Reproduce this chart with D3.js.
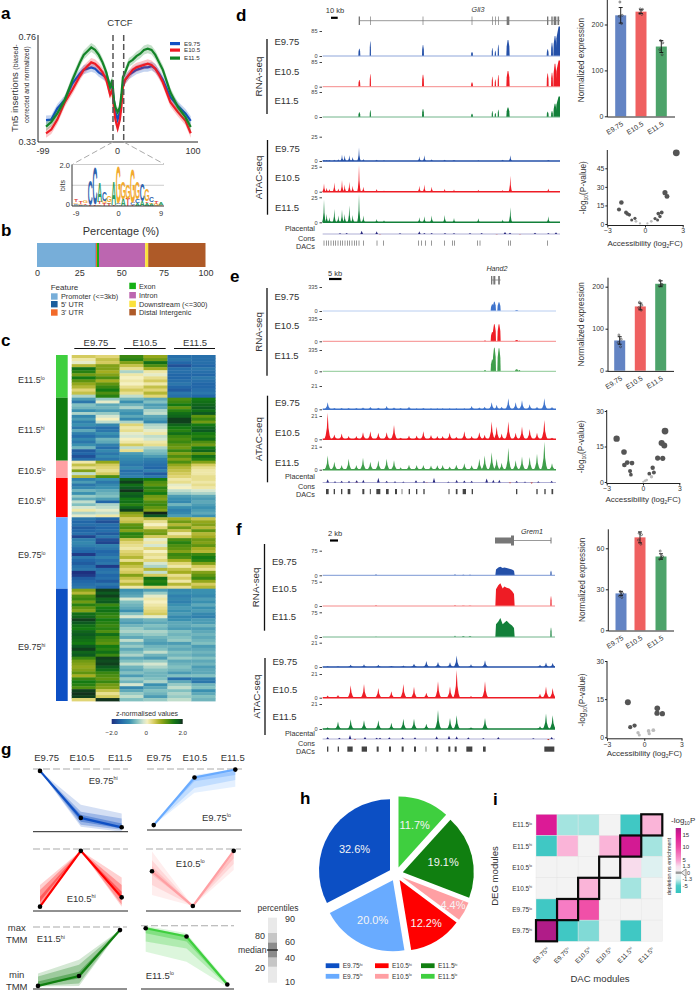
<!DOCTYPE html>
<html><head><meta charset="utf-8">
<script src="https://cdn.jsdelivr.net/npm/d3@7"></script>
<style>html,body{margin:0;padding:0;background:#fff}svg{display:block}text{font-family:"Liberation Sans",Arial,sans-serif;fill:#333}</style>
</head><body><div id="chart"></div>
<script>
// ---------- DATA ----------
const stages=["E9.75","E10.5","E11.5"];
// a: footprint
const footX=[-95,-88,-80,-70,-60,-50,-45,-40,-35,-30,-25,-20,-15,-10,-7,-5,-3,0,3,5,7,10,15,20,25,30,35,40,45,50,55,60,70,80,90,97];
const footE975=[.418,.42,.465,.50,.565,.605,.62,.625,.63,.625,.61,.60,.59,.56,.55,.50,.45,.42,.45,.50,.56,.58,.60,.61,.62,.625,.63,.63,.635,.625,.605,.58,.51,.475,.445,.415];
const footE105=[.365,.38,.42,.49,.54,.595,.62,.635,.65,.645,.63,.61,.58,.52,.54,.47,.42,.385,.42,.47,.55,.58,.60,.62,.63,.635,.64,.645,.64,.625,.60,.57,.49,.45,.415,.365];
const footE115=[.392,.41,.445,.50,.58,.65,.68,.695,.71,.70,.68,.65,.61,.55,.58,.50,.47,.45,.47,.52,.59,.61,.65,.66,.675,.685,.70,.705,.70,.68,.65,.62,.53,.47,.43,.39];
// a: motif logo, position then stacked letters with bits
const logoPos=[-9,-8,-7,-6,-5,-4,-3,-2,-1,0,1,2,3,4,5,6,7,8,9];
const logoStacks=[[["A",.06],["C",.06],["G",.06],["T",.14]],[["C",.05],["G",.05],["T",.1]],[["A",.05],["T",.08],["G",.12]],[["T",.05],["C",1.2]],[["T",.08],["C",1.8]],[["G",.08],["T",.1],["A",.95]],[["T",.15],["G",.1],["C",.45]],[["T",.12],["A",.08],["G",.3]],[["T",.06],["A",1.15]],[["A",.08],["C",.05],["G",1.8]],[["A",.35],["G",.8]],[["T",.35],["G",.72]],[["T",.06],["C",.1],["G",1.7]],[["A",.15],["C",.2],["G",.8]],[["A",.25],["C",.85]],[["A",.15],["T",.08],["G",.55]],[["A",.1],["G",.08],["C",.25]],[["G",.12],["T",.15]],[["G",.06],["A",.1]]];
// b: annotation
const featNames=["Promoter (<=3kb)","5' UTR","3' UTR","Exon","Intron","Downstream (<=300)","Distal Intergenic"];
const featPct=[34.7,.3,.6,1.2,27.4,1.8,34];
const featColors=["#77aed9","#1c5d9c","#f26a2a","#14b014","#bc66b0","#fbe23c","#ae5a28"];
// c: heatmap rows (z values, two replicates for each stage)
const heatNames=[["E11.5","lo"],["E11.5","hi"],["E10.5","lo"],["E10.5","hi"],["E9.75","lo"],["E9.75","hi"]];
const heatColors=["#3fcf3f","#107f10","#ff9fa3","#ff0000","#69abff","#0c4fc4"];
const heatE115lo=[[.4,.3,1.3,.8,-1.4,-1.4],[.1,.5,1.4,1,-1.3,-1.4],[-.1,.4,.9,1.6,-1.5,-1.4],[.6,.9,.5,1.2,-1.7,-1.5],[1.6,.9,.2,.7,-1.4,-1.3],[1.4,.7,-.4,.1,-1.4,-1.4],[1,.9,.1,-.1,-1.5,-1.5],[1.5,1.2,0,.2,-1.5,-1.3],[1.1,.7,.1,.4,-1.4,-1.4],[.8,1.1,0,.1,-1.3,-1.5],[.6,1.3,.2,.5,-1.5,-1.5],[.3,1.5,.4,.3,-1.6,-1.4],[.5,1.2,.2,.6,-1.3,-1.3],[-.4,1.4,-.3,.3,-1.4,-1.5]];
const heatE115hi=[[-.9,-.5,-.7,-.8,1.2,1.5],[-1.3,-.1,-1,-.6,1.3,1.6],[-.6,-.8,-.7,-.9,1.5,1.7],[-.7,-.7,-.4,-.8,1.1,1.8],[-1,-.9,-.9,-.4,1.4,1.6],[-.4,-.5,-1,-.3,1.6,1.8],[-1.1,-.2,-.8,-.8,1.7,1.1],[-.9,0,-1.1,-.9,1.9,1.3],[-1.2,-.3,-.4,-1.1,1.9,1],[-1,-1.1,.3,-.4,1.7,1.5],[-1.3,-1.4,.1,-.3,1.5,1.7],[-.8,-1.3,.2,-.1,1.4,1.8],[-1.2,-1,-.1,.1,1.6,1.5],[-1.4,-1.2,-.2,-.3,1.3,1.4],[-1.1,-.7,0,-.2,1.2,1.6],[-1.3,-.8,.1,.1,1.3,1.2],[-1,-1.2,.4,.2,1.1,1],[-.7,-1.4,-.3,-.4,1,1.5],[-1.6,-1.1,.2,-.6,1.3,1.7],[-1.5,-1.3,-.9,-.7,.9,1.1],[-1.7,-1.1,-1,-.9,1.2,1.6],[-1.4,-1.3,-1.1,-1.2,.9,1.4]];
const heatE105lo=[[.1,.8,-1.2,-1.3,1.2,.9],[.5,.4,-1.3,-1.4,.8,.4],[.2,.3,-1.1,-1.5,.6,.2],[.9,.2,-1.4,-1.2,.5,.1],[-.3,.4,-1.3,-1.6,.4,.1],[.6,1.2,-1.2,-1.3,.3,.2]];
const heatE105hi=[[-1.2,-1,1.7,1.5,.1,.2],[-.9,-1.3,1.9,1.2,.2,.1],[-1.3,-1.1,1.6,1.1,-.1,.2],[-1.1,-1,1.8,1.4,0,.1],[-.7,-.8,1.95,1.3,-.3,-.2],[-1,-.7,1.7,1.5,-.5,-.4],[-.5,-.6,1.8,1,-.9,-.8],[-.8,-.9,1.5,.9,-1,-.9],[-.3,-1.5,1.6,1.2,-1.1,-.8],[-.6,-.4,1.4,1.3,-.7,-.9],[-.2,-.3,1.7,1.1,-1,-1],[.1,-.1,1.9,.9,-1.2,-.9],[-.4,-.3,.9,2,-1.1,-.8],[-.1,.1,.7,1.8,-.9,-1]];
const heatE975lo=[[-1.3,-1.5,.4,.6,.7,.5],[-1.5,-1.7,.5,.2,1,.8],[-1.4,-1.4,1.1,0,.6,.9],[-1.6,-1.5,1.2,.3,1,.6],[-1.5,-1.4,.9,.9,.5,1.1],[-1.4,-1.6,1.4,1,.1,.6],[-1.8,-1.3,1.3,.4,.4,.7],[-1.2,-1.7,.5,-.1,1.2,1],[-1.1,-1.8,.3,.1,1.4,.9],[-1.2,-1.2,.2,-.2,1.2,1.1],[-1.4,-1.3,.1,.3,1.1,.7],[-1.5,-1.5,.3,0,.9,.6],[-1.9,-1.4,.4,.2,1.3,1.3],[-1.3,-1.2,.6,.1,1.2,1.5],[-1.5,-1.4,.2,.3,.7,1.4],[-1.6,-1.3,.7,-.2,.3,.9],[-1.4,-1.9,.5,-.4,.1,.4],[-1.3,-1.4,.3,.6,.5,.2],[-2,-1.3,.4,-.3,.7,.9],[-1.9,-1.5,.9,.4,.2,1.1],[-1.6,-1.4,.5,1.6,.4,1.3],[-1.5,-1.6,.3,1.4,.1,.8],[-1.4,-1.3,.6,1.5,.6,.4],[-1.3,-1.5,.1,.3,.2,.6]];
const heatE975hi=[[.9,1.9,-1,-.9,-1.1,-1],[.6,1.8,-.9,-.5,-1,-1],[1.2,1.9,-.8,-.1,-1.2,-1.1],[1.3,1.7,-.2,.1,-1.1,-.9],[1,1.8,-.6,0,-1.2,-1],[1.4,1.3,-.7,.1,-1,-.8],[1.1,1.5,-.8,.2,-.9,-1],[.9,1.6,-1,.3,-1,-.9],[1.6,1.4,-.6,.4,-.9,-1.1],[1.7,1.3,-.2,-.1,-1.1,-1.2],[1.9,1.5,-.8,-.7,-1,-.9],[1.8,1.4,-.9,-.8,-.8,-.9],[1.6,1.3,-.7,-.6,-.8,-.7],[1.5,1.4,-.5,-.7,-.9,-.9],[1.7,1.2,-.4,-.4,-.6,-.8],[1.8,1.6,-.6,-.5,-.7,-.7],[1.7,1.3,-.8,-.7,-.6,-.8],[1.6,1.2,-.3,-.8,-.5,-.7],[1.5,1.1,-.7,-.9,-.9,-.6],[1.8,1.5,-.5,-.7,-.7,-.9],[1.9,1.4,-.8,-.6,-.8,-.8],[1.7,1.6,-.6,-.3,-.6,-.7],[1.8,1.3,-.4,-.7,-.7,-.8],[1.3,1.9,-.8,-.9,-.5,-.6],[1,1.85,-.6,-.5,-.8,-.8],[.9,1.9,-.3,-.2,-.7,-.7],[.8,1.8,-.7,-.4,-.6,-.9],[.9,1.6,-.8,-.6,-.7,-.8],[1.1,1.3,-.6,-.7,-.9,-.8],[.7,1.2,-.9,-.7,-.6,-.6],[1.3,1.1,-.5,-.6,-1.4,-1.2],[1.5,1.3,-.7,-.4,-.8,-1.3],[1.4,1,-.2,-1,-.5,-.7],[1.2,.9,-1.1,-.8,-.3,-.6],[1.9,.5,-.8,-.6,-.6,-1],[1.95,.2,-.5,-.7,-.4,-.8],[1.9,.4,-.3,-.9,-.5,-.6],[.3,1.95,-.6,-.5,-.3,-.7]];
const heatLegend=[-2,0,2];
// d, e, f: tracks. Positions are genome bins along the track.
const dRnaPos=[388,421,579,726,787,796,805,834,953,966,975,988];
const dRnaW=[3,2,3,3,2,2,2,5,3,3,5,11];
const dRnaE975=[25,49,37,14,27,18,38,54,23,45,68,100];
const dRnaE105=[23,43,41,15,34,25,40,54,45,48,79,90];
const dRnaE115=[16,23,27,11,20,14,25,32,18,20,45,70];
const dAtacPos=[282,290,298,313,325,336,344,358,368,387,400,440,462,568,583,605,644,672,745,818,841,955];
const dAtacE975=[1,1,1,1.3,1.7,6.7,6,6,4,14,2,1.3,.7,5,6,1.7,1.3,1,.7,1.3,6,1];
const dAtacE105=[8.3,4,2.7,9.3,3.3,11.7,7.3,10,6,26.7,5,2.7,1.3,6,7.3,5,3,2.3,2,1.7,16,3.3];
const dAtacE115=[22.7,8.3,5,13.3,6.7,12.7,8.3,16.7,7.3,28.3,6.7,3.3,2,5,6,6.7,7.3,4.3,4,2.7,15,6];
const dCons=[[330,2],[350,3],[395,10],[440,8],[510,2],[568,8],[583,3],[605,3],[645,3],[672,2],[720,3],[755,3],[825,6],[840,4],[915,4],[955,3],[978,5],[450,-1],[800,-1],[870,-1]];
const dDacs=[[282,2],[289,2],[296,2],[303,2],[310,2],[317,2],[324,2],[331,2],[338,2],[345,2],[352,2],[359,2],[366,2],[373,2],[380,2],[387,2],[400,2],[441,2],[460,2],[566,2],[575,2],[586,2],[605,2],[644,2],[668,2],[674,2],[743,2],[750,2],[836,2],[841,2],[953,2]];
const dExons=[[388,4],[421,2],[579,2],[726,2],[787,2],[796,2],[805,2],[834,8],[953,4],[966,4],[975,8],[985,5]];
const eRnaPos=[765,787,793,807,860,868];
const eRnaW=[3,5,5,5,5,3];
const eRnaE975=[0,93,130,121,14,0];
const eRnaE105=[12,140,256,256,19,8];
const eRnaE115=[19,186,372,363,33,19];
const eAtacPos=[293,313,335,356,379,399,421,445,470,492,512,537,560,580,603,622,638,659,679,703,725,748,764,785,800,815,835,857,876,899,921,943,966];
const eAtacE975=[6.4,1.2,1.2,1.2,1.2,1.7,2,1.5,2.9,1.7,1.2,2.3,.9,1.2,.9,.9,.9,.9,.9,.9,2.9,1.7,2.3,6.4,4,2.3,10,6.4,8.1,4.6,2.3,10,2];
const eAtacE105=[24,4.4,5.2,2.9,2.9,6.4,7.3,5.8,6.4,13,1.5,3.5,3.5,7.3,3.8,2.9,2.9,5.8,2.3,7.3,2.9,6.4,4,16,11.6,5.2,16,5.8,11.6,9.3,5.8,17.4,1.5];
const eAtacE115=[13,7.3,4.4,10,4.4,11,7.3,8.7,10,8.7,2.3,4.6,4.4,4.4,3.8,4,4.4,3,4.6,5.8,4,10,13,16,10,6.4,20,8.7,12,11.6,14.5,25.5,5.8];
const eCons=[[293,10],[315,4],[335,5],[357,5],[380,7],[400,8],[445,14],[470,5],[495,4],[520,3],[558,7],[582,5],[612,14],[655,3],[680,8],[703,6],[725,5],[770,12],[790,8],[808,8],[860,5],[885,3],[925,4],[965,5],[840,-3],[905,-4],[380,-1],[590,-1]];
const eDacs=[[292,8],[313,4],[335,4],[357,8],[400,6],[421,3],[445,12],[472,8],[498,6],[516,2],[538,4],[560,4],[582,4],[657,3],[680,5],[703,10],[727,4],[860,4],[921,4],[945,4],[967,5]];
const eExons=[[785,4],[793,6],[807,5]];
const fRnaPos=[438,675,700,720,963];
const fRnaW=[2,2,4,4,2];
const fRnaE975=[3,3,2,2,14];
const fRnaE105=[2,2,1,1,30];
const fRnaE115=[1,4,2,2,28];
const fBlockX=[796,798,805,811,818,823,830,838,846,852,854];
const fBlockE975=[0,18,24,26,22,24,22,20,18,14,0];
const fBlockE105=[0,52,64,70,54,60,56,54,46,37,0];
const fBlockE115=[0,39,47,58,39,43,49,41,35,27,0];
const fAtacPos=[293,324,362,402,445,484,520,552,589,624,660,680,723,765,930,948,968];
const fAtacE975=[.6,.6,2,2.3,2,.9,1.2,2.9,5.2,4.4,4,10,2.3,5.8,2,3.8,3.5];
const fAtacE105=[2,2.3,11,12.2,8.7,5.8,12.2,9.6,4.4,14.5,10,24.6,1.5,14.5,3.5,10,8.7];
const fAtacE115=[1.5,6.4,8.1,7.3,7.3,5.2,8.7,8.7,4.4,16,9.3,11.6,1.5,9.3,2.3,13,11.6];
const fCons=[[293,6],[328,4],[360,12],[405,6],[440,4],[450,4],[478,5],[518,5],[555,5],[620,8],[657,10],[680,8],[715,5],[760,3],[805,6],[910,2],[965,6],[375,-2],[955,-4]];
const fDacs=[[293,4],[325,4],[360,16],[403,16],[443,6],[480,6],[518,6],[555,6],[588,2],[622,6],[658,6],[677,6],[718,18],[763,8],[958,30]];
// expression bars
const dBars=[220,228,152],dErr=[17,4,13],dDots=[[249,220,218,202],[234,233,224,222],[165,160,145,134]];
const eBars=[72,153,207],eErr=[9,8,7],eDots=[[85,75,67,57],[163,156,150,144],[215,205,202,205]];
const fBars=[27,68,54],fErr=[1.5,4,2],fDots=[[28.3,27,25,24],[71,70,66,63],[58,54,52,53]];
// accessibility scatter [log2FC, -log10 P]
const dScatter=[[2.49,57.5],[1.59,25.3],[1.75,22.3],[1.33,9.3],[1.06,8.4],[1.19,6],[1,3.3],[.8,4.4],[.5,2.2],[.19,.5],[-1.88,17.4],[-2.07,11.7],[-1.51,9.3],[-1.25,7.4],[-.8,4.6],[-1.06,3.3],[-.72,2.2],[-.4,.5],[-1.4,8.2]];
const eScatter=[[1.82,21.5],[1.54,16.5],[1.76,15.4],[1.21,10.1],[1.63,10],[.8,6],[.9,4],[.7,2.2],[.52,3.5],[.3,.8],[.03,.1],[-2.18,18.3],[-1.57,12.7],[-1.54,7.2],[-1.3,8.2],[-.91,8],[-1.07,4.6],[-1,3.1],[.17,.5]];
const fScatter=[[-1.32,13.8],[1.05,11.4],[1.03,9.5],[1.46,9.3],[-1.13,4],[-.78,4.6],[-.5,1.8],[-.4,.9],[.35,2.5],[.4,1.4],[.73,2.8]];
// g: percentile ribbons, three stages
const gMedian=[[.97,.22,.07],[.08,.86,.99],[.07,.97,.22],[.64,.08,.97],[.05,.21,.95],[.96,.83,.07]];
const gP10=[[.97,.08,0],[.08,.61,.71],[.07,.97,.07],[.26,.08,.66],[.04,.05,.95],[.59,.43,.03]];
const gP20=[[.97,.11,.03],[.08,.69,.82],[.1,.97,.1],[.42,.08,.76],[.05,.09,.95],[.75,.64,.05]];
const gP40=[[.97,.16,.05],[.08,.8,.9],[.15,.97,.18],[.58,.08,.85],[.06,.17,.95],[.88,.75,.06]];
const gP60=[[.97,.27,.13],[.08,.87,.96],[.23,.97,.31],[.72,.08,.93],[.12,.28,.95],[.96,.83,.09]];
const gP80=[[.97,.32,.21],[.08,.88,.99],[.34,.97,.42],[.82,.08,.97],[.2,.39,.95],[.98,.85,.1]];
const gP90=[[.97,.43,.29],[.08,.9,1],[.42,.97,.54],[.96,.08,1],[.25,.47,.95],[1,.88,.12]];
const gNames=[["E9.75","hi"],["E9.75","lo"],["E10.5","hi"],["E10.5","lo"],["E11.5","hi"],["E11.5","lo"]];
const gColors=["#0f50c4","#69abff","#ff0000","#ff9fa3","#107f10","#3fcf3f"];
// h: pie
const pieNames=[["E11.5","lo"],["E11.5","hi"],["E10.5","lo"],["E10.5","hi"],["E9.75","lo"],["E9.75","hi"]];
const pieValues=[11.7,19.1,4.4,12.2,20.0,32.6];
const pieColors=["#3fcf3f","#107f10","#ff9fa3","#ff0000","#69abff","#0c4fc4"];
// i: enrichment matrix, rows top to bottom, DAC columns left to right
const degNames=[["E11.5","lo"],["E11.5","hi"],["E10.5","lo"],["E10.5","hi"],["E9.75","lo"],["E9.75","hi"]];
const dacNames=[["E9.75","hi"],["E9.75","lo"],["E10.5","hi"],["E10.5","lo"],["E11.5","hi"],["E11.5","lo"]];
const enrich=[[15,-2.5,-2.5,0,-6,4],[-6,4,0,4,16,-2.5],[0,0,0,0,1.5,-1],[0,0,4,0,-2.5,0],[-6,6.5,9,0,0,0],[20,-6,-3.5,0,-6,0]];
const enrichTicks=[15,10,5,1.3,0,-1.3,-5];

// ---------- HELPERS ----------
const svg=d3.select("#chart").append("svg").attr("width",699).attr("height",991).attr("viewBox","0 0 699 991");
const defs=svg.append("defs");
function T(x,y,s,o={}){const t=svg.append("text").attr("x",x).attr("y",y).text(s)
 .attr("font-size",o.size||7.5).attr("text-anchor",o.anchor||"start");
 if(o.bold)t.attr("font-weight","bold");if(o.italic)t.attr("font-style","italic");
 if(o.fill)t.style("fill",o.fill);if(o.rot!==undefined)t.attr("transform",`rotate(${o.rot} ${x} ${y})`);return t;}
function M(x,y,pair,o={}){const size=o.size||9.5;const t=T(x,y,pair[0],{...o,size});
 t.append("tspan").attr("dy",-size*.38).attr("font-size",size*.55).text(pair[1]);return t;}
function L(x1,y1,x2,y2,c="#000",w=1,dash){const l=svg.append("line").attr("x1",x1).attr("y1",y1).attr("x2",x2).attr("y2",y2).attr("stroke",c).attr("stroke-width",w);if(dash)l.attr("stroke-dasharray",dash);return l;}
[["a",1,19],["b",1,236],["c",1,346],["d",236,21],["e",230,282],["f",236,535],["g",1,755],["h",300,804],["i",493,805]].forEach(d=>T(d[1],d[2],d[0],{size:17,bold:true,fill:"#000"}));
function styleAxis(g,size){g.selectAll("text").attr("font-size",size).style("fill","#333");g.selectAll("path,line").attr("stroke","#222");}

// ---------- PANEL A ----------
(function(){
 const x=d3.scaleLinear([-99,100],[43,193]),y=d3.scaleLinear([.33,.76],[142,35]);
 const series=[[footE975,"#1250c4"],[footE105,"#ee1c25"],[footE115,"#148428"]];
 series.forEach(([v,c])=>{
  const area=d3.area().x((d,i)=>x(footX[i])).y0((d)=>y(d-.018)).y1(d=>y(d+.018));
  svg.append("path").attr("d",area(v)).attr("fill",c).attr("opacity",.25);
  const line=d3.line().x((d,i)=>x(footX[i])).y(d=>y(d));
  svg.append("path").attr("d",line(v)).attr("fill","none").attr("stroke",c).attr("stroke-width",2.2);
 });
 L(38,35,38,142,"#222",1);L(38,142,198,142,"#222",1);
 T(36,40,"0.76",{size:9,anchor:"end"});T(36,145,"0.33",{size:9,anchor:"end"});
 [[-99,"-99"],[0,"0"],[100,"100"]].forEach(d=>T(x(d[0]),154,d[1],{size:9,anchor:"middle"}));
 T(120,26,"CTCF",{size:9.5,anchor:"middle"});
 L(113,35,113,142,"#555",1.5,"6,3");L(123.7,35,123.7,142,"#555",1.5,"6,3");
 L(113,142,73,164,"#aaa",1,"6,3");L(123.7,142,164,164,"#aaa",1,"6,3");
 const yl=T(18,132,"Tn5 insertions ",{size:9.5,rot:-90});yl.append("tspan").attr("font-size",7).text("(biased-");
 T(29,123,"corrected and normalized)",{size:6.6,rot:-90});
 stages.forEach((s,i)=>{const yy=[43.5,50,58][i];svg.append("rect").attr("x",170).attr("y",yy-1.5).attr("width",10).attr("height",3.2).attr("fill",series[i][1]);T(184,yy+2,s,{size:6.2});});
 // logo
 const lx=d3.scaleLinear([-9,9],[76,161]),ly=d3.scaleLinear([0,2],[206,164.5]);
 L(72,ly(2),164,ly(2),"#ccc",1);L(72,ly(1),164,ly(1),"#ccc",1);
 const lc={A:"#2e9e60",C:"#2e62ad",G:"#f2aa2e",T:"#e0403a"};
 logoPos.forEach((p,i)=>{let b=0;logoStacks[i].forEach(([ch,h])=>{
  const hp=ly(0)-ly(h);const yb=ly(b);
  svg.append("text").text(ch).attr("font-size",10).attr("font-weight","bold").attr("text-anchor","middle")
   .attr("transform",`translate(${lx(p)},${yb}) scale(.68,${hp/7.2})`).style("fill",lc[ch]);b+=h;});});
 L(72,164.5,72,206,"#333",1);L(72,206,164,206,"#333",1.2);
 T(70,168,"2.0",{size:7.5,anchor:"end"});T(70,207,"0",{size:7.5,anchor:"end"});
 T(65,191,"bits",{size:7,rot:-90});
 [-9,0,9].forEach(v=>T(lx(v),216,String(v),{size:7.5,anchor:"middle"}));
})();

// ---------- PANEL B ----------
(function(){
 const x=d3.scaleLinear([0,100],[37,205.5]);
 let c=0;featPct.forEach((p,i)=>{svg.append("rect").attr("x",x(c)).attr("y",243).attr("width",x(c+p)-x(c)).attr("height",24).attr("fill",featColors[i]);c+=p;});
 const ax=svg.append("g").attr("transform","translate(0,267)").call(d3.axisBottom(x).tickValues([0,25,50,75,100]).tickSize(0).tickPadding(3));
 ax.select(".domain").remove();styleAxis(ax,9);
 T(121,235,"Percentage (%)",{size:11,anchor:"middle"});
 T(50.7,290,"Feature",{size:8});
 [[51,293.3,0],[51,301,1],[51,309.3,2],[129.3,282.7,3],[129.3,292,4],[129.3,300.7,5],[129.3,309,6]].forEach(([xx,yy,i])=>{
  svg.append("rect").attr("x",xx).attr("y",yy).attr("width",6.6).attr("height",6.4).attr("fill",featColors[i]);
  T(xx+(i<3?10:9.7),yy+6,featNames[i],{size:7.3});});
})();

// ---------- PANEL C ----------
const zColor=d3.scaleLinear().domain([-2,-1.5,-1,-.6,-.2,0,.35,.7,1.1,1.5,1.8,2])
 .range(["#1f2f7f","#2267a8","#3a90b0","#82c0c0","#d5e6cf","#f5f0c0","#dcd068","#a4ad20","#5f9410","#157a12","#0d5a20","#13261a"]);
(function(){
 const mods=[heatE115lo,heatE115hi,heatE105lo,heatE105hi,heatE975lo,heatE975hi];
 const bounds=[355,397.7,460.7,478,517.3,588.7,701];
 const lblY=[383,433,474,504,558,650];
 const x=d3.scaleBand(d3.range(6),[71.7,215.3]);
 mods.forEach((rows,m)=>{
  const y=d3.scaleBand(d3.range(rows.length),[bounds[m],bounds[m+1]]);
  rows.forEach((r,i)=>r.forEach((v,j)=>svg.append("rect").attr("x",x(j)).attr("y",y(i)).attr("width",x.bandwidth()+.3).attr("height",y.bandwidth()+.4).attr("fill",zColor(v))));
  svg.append("rect").attr("x",56).attr("y",bounds[m]).attr("width",11.7).attr("height",bounds[m+1]-bounds[m]).attr("fill",heatColors[m]);
  M(18,lblY[m],heatNames[m],{size:9});
 });
 [[96,74.3,115.7],[145,124,165.7],[195,174,215]].forEach((d,i)=>{T(d[0],346,stages[i],{size:9.5,anchor:"middle"});L(d[1],348.5,d[2],348.5,"#111",1);});
 const gid="zgrad";const g=defs.append("linearGradient").attr("id",gid);
 d3.range(0,1.001,.05).forEach(t=>g.append("stop").attr("offset",t).attr("stop-color",zColor(-2+4*t)));
 svg.append("rect").attr("x",111.7).attr("y",719).attr("width",71).attr("height",5).attr("fill",`url(#${gid})`);
 T(147,716,"z-normalised values",{size:7,anchor:"middle"});
 const lx=d3.scaleLinear([-2,2],[111.7,182.7]);
 heatLegend.forEach(v=>T(lx(v)+(v==0?-1:0),735,v==0?"0":(v<0?"\u2212":"")+Math.abs(v).toFixed(1),{size:6.2,anchor:"middle"}));
})();

// ---------- PANELS D, E, F ----------
function peakRna(p,h,w){return [[p-w,0],[p-.8*w,.6*h],[p-.2*w,h],[p+.2*w,h],[p+.8*w,.6*h],[p+w,0]];}
function peakAtac(p,h,w){return [[p-1.8*w,0],[p-1.1*w,.14*h],[p-.45*w,.42*h],[p,h],[p+.45*w,.42*h],[p+1.1*w,.14*h],[p+1.8*w,0]];}
function drawTrack(x,base,top,max,color,lineC,clip,shapes,lineW){
 const y=d3.scaleLinear([0,max],[base,top]);
 const ax=svg.append("g").attr("transform",`translate(322,0)`).call(d3.axisLeft(y).tickValues([0,max]).tickSize(2.5).tickPadding(2));
 ax.select(".domain").remove();ax.selectAll("text").attr("font-size",5.6).style("fill","#444");ax.selectAll("line").attr("stroke","#444");
 const a=d3.area().x(d=>x(d[0])).y0(base).y1(d=>y(d[1]));
 const g=svg.append("g").attr("clip-path",`url(#${clip})`);
 shapes.forEach(s=>g.append("path").attr("d",a(s)).attr("fill",color));
 g.append("line").attr("x1",x.range()[0]).attr("x2",x.range()[1]).attr("y1",base).attr("y2",base).attr("stroke",lineC).attr("stroke-width",lineW||1);
}
function drawPanel(o){
 const x=d3.scaleLinear([278,o.end],[322.67,o.end/3+230]);
 const cid="clip"+o.id;defs.append("clipPath").attr("id",cid).append("rect").attr("x",320).attr("y",0).attr("width",x(o.end)-320).attr("height",991);
 const C=o.colors;
 o.rna.forEach((s,i)=>{
  const shapes=o.rnaPos.map((p,j)=>peakRna(p,s[j],o.rnaW[j]));
  if(o.block)shapes.push(o.blockX.map((bx,j)=>[bx,o.block[i][j]]));
  drawTrack(x,o.rnaBase[i],o.rnaTop[i],o.rnaMax,C[i],o.pale[i],cid,shapes);
 });
 o.atac.forEach((s,i)=>{
  const shapes=o.atacPos.map((p,j)=>peakAtac(p,s[j],o.atacW));
  drawTrack(x,o.atacBase[i],o.atacTop[i],o.atacMax,C[i],C[i],cid,shapes,1.6);
 });
 // conservation
 const cy=d3.scaleLinear([0,15],[o.consY,o.consY-5]);
 svg.append("line").attr("x1",x.range()[0]).attr("x2",x.range()[1]).attr("y1",o.consY).attr("y2",o.consY).attr("stroke","#7a78b8").attr("stroke-width",.6);
 const ca=d3.area().x(d=>x(d[0])).y0(o.consY).y1(d=>cy(d[1]));
 o.cons.forEach(([p,h])=>svg.append("path").attr("d",ca([[p-4,0],[p-1.5,h*.6],[p,h],[p+1.5,h*.6],[p+4,0]])).attr("fill",h<0?"#c0392b":"#26267e"));
 o.dacs.forEach(([p,w])=>svg.append("rect").attr("x",x(p-w/2)).attr("y",o.dacY).attr("width",x(w)-x(0)).attr("height",5.2).attr("fill",o.dacFill));
 T(315,o.consY-3.5,"Placental",{size:7.3,anchor:"end"});
 T(315,o.consY+6.5,"Cons",{size:7.3,anchor:"end"});
 T(315,o.consY+14.5,"DACs",{size:7.3,anchor:"end"});
 // side labels
 L(o.barX,o.rnaBar[0],o.barX,o.rnaBar[1],"#111",1.3);L(o.barX+.5,o.atacBar[0],o.barX+.5,o.atacBar[1],"#111",1.3);
 T(o.barX-5,(o.rnaBar[0]+o.rnaBar[1])/2,"RNA-seq",{size:9.8,anchor:"middle",rot:-90});
 T(o.barX-5,(o.atacBar[0]+o.atacBar[1])/2,"ATAC-seq",{size:9.8,anchor:"middle",rot:-90});
 stages.forEach((s,i)=>{T(o.barX+7.5,o.rnaLbl[i]+3.3,s,{size:9.5});T(o.barX+8,o.atacLbl[i]+3.3,s,{size:9.5});});
 // scale bar and gene
 T(o.scale[0],o.scale[1],o.scale[2],{size:7.5,anchor:"middle"});L(o.scale[3],o.scale[4],o.scale[5],o.scale[4],"#000",2.2);
 T(o.gene[0],o.gene[1],o.gene[2],{size:7.2,italic:true,anchor:"middle"});
}
const panelColorsD=["#2450a8","#ee1c25","#13803a"];
drawPanel({id:"d",end:990,colors:panelColorsD,pale:["#8fa6da","#f58a8a","#70b48a"],rnaPos:dRnaPos,rnaW:dRnaW,rna:[dRnaE975,dRnaE105,dRnaE115],rnaBase:[56,86.7,117],rnaTop:[31,62,92],rnaMax:85,
 atacPos:dAtacPos,atacW:3,atac:[dAtacE975,dAtacE105,dAtacE115],atacBase:[161,191.7,222.3],atacTop:[136.7,166.7,197.3],atacMax:25,cons:dCons,consY:234,dacs:dDacs,dacY:240.5,dacFill:"#666",
 barX:267,rnaBar:[39,114],atacBar:[140,214.7],rnaLbl:[41.7,71.7,100.7],atacLbl:[149,178,208],scale:[335,13,"10 kb",331,17.8,337.7],gene:[478,12,"Gli3"]});
const panelColorsE=["#3f74cc","#ee1c25","#3f9e4b"];
drawPanel({id:"e",end:978,colors:panelColorsE,pale:["#b8cdf0","#f58a8a","#8cc894"],rnaPos:eRnaPos,rnaW:eRnaW,rna:[eRnaE975,eRnaE105,eRnaE115],rnaBase:[311,341.3,371.3],rnaTop:[287,319,350],rnaMax:335,
 atacPos:eAtacPos,atacW:5.5,atac:[eAtacE975,eAtacE105,eAtacE115],atacBase:[409.3,439.3,469.7],atacTop:[386,416,446.7],atacMax:21,cons:eCons,consY:482.5,dacs:eDacs,dacY:489,dacFill:"#444",
 barX:267,rnaBar:[288,375.7],atacBar:[395.7,482.3],rnaLbl:[296.7,326,356],atacLbl:[403,433,463],scale:[335,275.5,"5 kb",329,279,341.5],gene:[497,271,"Hand2"]});
const panelColorsF=["#2450a8","#ee1c25","#13803a"];
drawPanel({id:"f",end:975,colors:panelColorsF,pale:["#7b98d4","#f58a8a","#70b48a"],rnaPos:fRnaPos,rnaW:fRnaW,rna:[fRnaE975,fRnaE105,fRnaE115],block:[fBlockE975,fBlockE105,fBlockE115],blockX:fBlockX,rnaBase:[575.3,606,637],rnaTop:[550.7,581.7,612.3],rnaMax:75,
 atacPos:fAtacPos,atacW:5.5,atac:[fAtacE975,fAtacE105,fAtacE115],atacBase:[667,697.7,729],atacTop:[642.7,674,704],atacMax:21,cons:fCons,consY:739,dacs:fDacs,dacY:746.5,dacFill:"#444",
 barX:264.5,rnaBar:[544,630.7],atacBar:[658,735],rnaLbl:[561.7,589,617],atacLbl:[661.7,690,717],scale:[335,536,"2 kb",330,540.5,338],gene:[532,534,"Grem1"]});
// gene models
(function(){
 const dx=d3.scaleLinear([278,990],[322.67,560]);
 L(dx(388),20.7,560,20.7,"#999",1);
 dExons.forEach(([p,w])=>svg.append("rect").attr("x",dx(p-w/2)).attr("y",16.5).attr("width",dx(w)-dx(0)).attr("height",8.5).attr("fill","#777"));
 const ex=d3.scaleLinear([278,978],[322.67,556]);
 L(ex(783),280,ex(812),280,"#999",1);
 eExons.forEach(([p,w])=>svg.append("rect").attr("x",ex(p-w/2)).attr("y",276).attr("width",ex(w)-ex(0)).attr("height",8.5).attr("fill","#777"));
 L(514,540.5,551,540.5,"#999",1);L(551,537.5,551,543.5,"#777",1);
 svg.append("rect").attr("x",495).attr("y",537.5).attr("width",16).attr("height",6).attr("fill","#777");
 svg.append("rect").attr("x",511).attr("y",535.5).attr("width",3).attr("height",10).attr("fill","#777");
})();
// expression bars and scatter
const barColors=["#6384c4","#ef6060","#4da36a"];
function drawBars(o){
 const y=d3.scaleLinear([0,o.unit],[o.zero,o.unitY]);
 o.cx.forEach((c,i)=>{
  svg.append("rect").attr("x",c-5.5).attr("y",y(o.v[i])).attr("width",11).attr("height",y(0)-y(o.v[i])).attr("fill",barColors[i]);
  L(c,y(o.v[i]+o.e[i]),c,y(o.v[i]-o.e[i]),"#111",.9);L(c-2,y(o.v[i]+o.e[i]),c+2,y(o.v[i]+o.e[i]),"#111",.9);L(c-2,y(o.v[i]-o.e[i]),c+2,y(o.v[i]-o.e[i]),"#111",.9);
  o.dots[i].forEach((d,j)=>svg.append("circle").attr("cx",c+[-.8,1.5,-1.5,.8][j]).attr("cy",y(d)).attr("r",1).attr("fill","none").attr("stroke","#333").attr("stroke-width",.6));
  T(c+3,o.zero+9,stages[i],{size:7,anchor:"end",rot:-32});
 });
 const ax=svg.append("g").attr("transform",`translate(${o.x},0)`).call(d3.axisLeft(y).tickValues(o.ticks).tickSize(2.5).tickPadding(1.5));
 ax.select(".domain").remove();styleAxis(ax,7);
 L(o.x,o.top,o.x,o.zero+.7,"#222",1);L(o.x,o.zero+.7,o.xEnd,o.zero+.7,"#222",1);
 T(o.lx,(o.top+o.zero)/2+o.ldy,"Normalized expression",{size:8.3,anchor:"middle",rot:-90});
}
drawBars({v:dBars,e:dErr,dots:dDots,zero:116.3,unit:100,unitY:70.4,x:607.3,xEnd:675,top:0,ticks:[0,100,200],cx:[620.7,641,661.3],lx:584,ldy:2});
drawBars({v:eBars,e:eErr,dots:eDots,zero:370.7,unit:100,unitY:328.7,x:608,xEnd:674,top:277.7,ticks:[0,100,200],cx:[619.7,640.3,660.7],lx:584,ldy:0});
drawBars({v:fBars,e:fErr,dots:fDots,zero:630.3,unit:30,unitY:589.3,x:608.3,xEnd:674,top:529.3,ticks:[0,30,60],cx:[621,640,661],lx:585,ldy:0});
function drawScatter(o){
 const x=d3.scaleLinear([-3,3],o.xr),y=d3.scaleLinear([0,o.ymax],[o.zero,o.topTick]);
 const r=d3.scaleSqrt(o.rDomain,o.rRange);
 o.pts.forEach(([a,b])=>svg.append("circle").attr("cx",x(a)).attr("cy",y(b)).attr("r",r(b)).attr("fill",b<3?"#bbb":"#555"));
 const ay=svg.append("g").attr("transform",`translate(${o.xr[0]},0)`).call(d3.axisLeft(y).tickValues(o.ticks).tickSize(2).tickPadding(1));
 const bottom=o.zero+1.5;
 ay.select(".domain").remove();styleAxis(ay,6.8);
 const ax=svg.append("g").attr("transform",`translate(0,${bottom})`).call(d3.axisBottom(x).tickValues([-3,0,3]).tickFormat(d3.format("d")).tickSize(2).tickPadding(1));
 ax.select(".domain").remove();styleAxis(ax,6.8);
 L(o.xr[0],o.top,o.xr[0],bottom,"#222",1);L(o.xr[0],bottom,o.xr[1]+1,bottom,"#222",1);
 const t=T((o.xr[0]+o.xr[1])/2,bottom+o.xlOff,"Accessibility (log",{size:8,anchor:"middle"});
 t.append("tspan").attr("dy",2).attr("font-size",5).text("2");t.append("tspan").attr("dy",-2).text("FC)");
 const v=T(o.lx,(o.top+bottom)/2,"-log",{size:8.3,anchor:"middle",rot:-90});
 v.append("tspan").attr("dy",2).attr("font-size",5).text("10");v.append("tspan").attr("dy",-2).text("(P-value)");
}
drawScatter({pts:dScatter,xr:[607.3,682.7],zero:224,ymax:45,topTick:168.3,top:150,ticks:[0,15,30,45],xlOff:20,lx:586,rDomain:[0,57],rRange:[.9,3.4]});
drawScatter({pts:eScatter,xr:[606.7,679.3],zero:482,ymax:30,topTick:411,top:410,ticks:[0,15,30],xlOff:18,lx:584,rDomain:[0,22],rRange:[.9,3.4]});
drawScatter({pts:fScatter,xr:[607,681.5],zero:737.3,ymax:30,topTick:661,top:661,ticks:[0,15,30],xlOff:17,lx:585,rDomain:[0,14],rRange:[1,3]});

// ---------- PANEL G ----------
(function(){
 const geo=[[40,80.7,121.7,769,831.7,33,128],[153.7,194.7,235.3,769,830,147,242],[40,80.7,121.7,849,911,33,128],[152,192.7,233.7,849,911,146,241],[38,79,120,927,989,33,127],[145.7,186.7,227.3,925.7,989,141,234]];
 const lblPos=[[88.7,784],[202,820.7],[66.7,901.7],[175.7,866.7],[36.7,942.3],[145.7,979]];
 geo.forEach((g,m)=>{
  const x=d3.scalePoint([0,1,2],[g[0],g[2]]),y=d3.scaleLinear([0,1],[g[4],g[3]]);
  const band=(lo,hi,op)=>{const a=d3.area().x((d,i)=>x(i)).y0((d,i)=>y(lo[m][i])).y1((d,i)=>y(hi[m][i]));
   svg.append("path").attr("d",a(lo[m])).attr("fill",gColors[m]).attr("opacity",op);};
  band(gP10,gP90,.18);band(gP20,gP80,.28);band(gP40,gP60,.4);
  L(g[5],g[3],g[6],g[3],"#aaa",1.1,"7,3");
  L(g[5],g[4],g[6],g[4],"#222",1);
  svg.append("path").attr("d",d3.line().x((d,i)=>x(i)).y(d=>y(d))(gMedian[m])).attr("fill","none").attr("stroke",gColors[m]).attr("stroke-width",2.2);
  gMedian[m].forEach((d,i)=>svg.append("circle").attr("cx",x(i)).attr("cy",y(d)).attr("r",2.3).attr("fill","#000"));
  M(lblPos[m][0],lblPos[m][1],gNames[m],{size:9.5});
 });
 [[46.7,82,120],[159,195,232.7]].forEach(c=>c.forEach((cx,i)=>T(cx,760.5,stages[i],{size:9.5,anchor:"middle"})));
 [["max",16.7,931],["TMM",16.7,942.5],["min",16.7,978],["TMM",16.7,989.5]].forEach(d=>T(d[1],d[2],d[0],{size:9.5,anchor:"middle"}));
 // percentile key
 const pctVals=[10,20,40,60,80,90];const pctY=d3.scaleLinear(pctVals,[982.7,966.7,957.3,942.7,933,917.7]);
 [[10,90,"#e9e9e9"],[20,80,"#c6c6c6"],[40,60,"#8c8c8c"]].forEach(([a,b,c])=>svg.append("rect").attr("x",268).attr("y",pctY(b)).attr("width",9).attr("height",pctY(a)-pctY(b)).attr("fill",c));
 L(267,950,278,950,"#111",1.2);
 T(278,911,"percentiles",{size:8.5,anchor:"middle"});
 T(285,922,"90",{size:9});T(285,945,"60",{size:9});T(285,961,"40",{size:9});T(285,985,"10",{size:9});
 T(265,939,"80",{size:9,anchor:"end"});T(265,971,"20",{size:9,anchor:"end"});T(266.5,953,"median",{size:8.7,anchor:"end"});
})();

// ---------- PANEL H ----------
(function(){
 const cx=396,cy=874,R=71,off=7;
 const arcs=d3.pie().sort(null)(pieValues);
 const arc=d3.arc().innerRadius(0).outerRadius(R);
 const lblR=[52,48.5,65,58,52,48.6];
 arcs.forEach((a,i)=>{const m=(a.startAngle+a.endAngle)/2,dx=Math.sin(m),dy=-Math.cos(m);
  svg.append("path").attr("d",arc(a)).attr("transform",`translate(${cx+dx*off},${cy+dy*off})`).attr("fill",pieColors[i]);
  T(cx+dx*lblR[i],cy+dy*lblR[i]+3.8,pieValues[i].toFixed(1)+"%",{size:11,anchor:"middle",fill:"#f4f4f4"});
 });
 const leg=[[5,325.7,965.7],[4,325.7,976.3],[3,375,965.7],[2,375,976.3],[1,421,965.7],[0,421,976.3]];
 leg.forEach(([i,x,y])=>{svg.append("rect").attr("x",x).attr("y",y-2.4).attr("width",13.6).attr("height",4.8).attr("fill",pieColors[i]);
  M(x+17,y+2.3,pieNames[i],{size:6.5});});
})();

// ---------- PANEL I ----------
(function(){
 const color=d3.scaleLinear().domain([-7,-5,-2.5,-1.3,0,1.3,4,6.5,9,15,20]).range(["#34c5c0","#4ccbc7","#a4e4e0","#d8f0f0","#f3f3f3","#f8dfee","#fab4d8","#f77cc4","#f050a8","#dc1a96","#b01c88"]);
 const x=d3.scaleBand(d3.range(6),[536,662.3]),y=d3.scaleBand(d3.range(6),[814.3,941.3]);
 enrich.forEach((r,i)=>r.forEach((v,j)=>svg.append("rect").attr("x",x(j)).attr("y",y(i)).attr("width",x.bandwidth()).attr("height",y.bandwidth()).attr("fill",color(v)).attr("stroke","#e4e4e4").attr("stroke-width",.4)));
 d3.range(6).forEach(j=>svg.append("rect").attr("x",x(j)).attr("y",y(5-j)).attr("width",x.bandwidth()).attr("height",y.bandwidth()).attr("fill","none").attr("stroke","#0a0a0a").attr("stroke-width",2.2));
 degNames.forEach((n,i)=>M(532,y(i)+y.bandwidth()/2+2.5,n,{size:6.5,anchor:"end"}));
 dacNames.forEach((n,j)=>M(x(j)+x.bandwidth()/2+3,950,n,{size:6.5,anchor:"end",rot:-45}));
 T(498,876,"DEG modules",{size:9.6,anchor:"middle",rot:-90});
 T(600,982,"DAC modules",{size:9.6,anchor:"middle"});
 // colour bar
 const cb=d3.scaleLinear().domain([15,10,5,1.3,0,-1.3,-5]).range([835,847,860.3,866.3,872.7,879,885.7]);
 const g=defs.append("linearGradient").attr("id","cgrad").attr("x1",0).attr("x2",0).attr("y1",0).attr("y2",1);
 [[828,20],[835,15],[847,10],[860.3,5],[866.3,1.3],[872.7,0],[879,-1.3],[885.7,-5],[893,-7]].forEach(([py,v])=>g.append("stop").attr("offset",(py-828)/65).attr("stop-color",color(v)));
 svg.append("rect").attr("x",675.7).attr("y",828).attr("width",5.3).attr("height",65).attr("fill","url(#cgrad)");
 enrichTicks.forEach(v=>T(v==0?687:682.5,cb(v)+2,v==-1.3?"-1.3":String(v),{size:v==1.3||v==0||v==-1.3?5.5:6}));
 svg.append("rect").attr("x",675.7).attr("y",871.5).attr("width",5.3).attr("height",2.4).attr("fill","#999");
 svg.append("path").attr("d",d3.line()([[681,872.7],[686,869],[686,876.5]])+"Z").attr("fill","#eee").attr("stroke","#777").attr("stroke-width",.8);
 const t=T(671,822.7,"-log",{size:8});t.append("tspan").attr("dy",2).attr("font-size",5).text("10");t.append("tspan").attr("dy",-2).text("P");
 T(671.5,866.7,"depletion ns enrichment",{size:5.4,anchor:"middle",rot:-90});
})();
</script></body></html>
